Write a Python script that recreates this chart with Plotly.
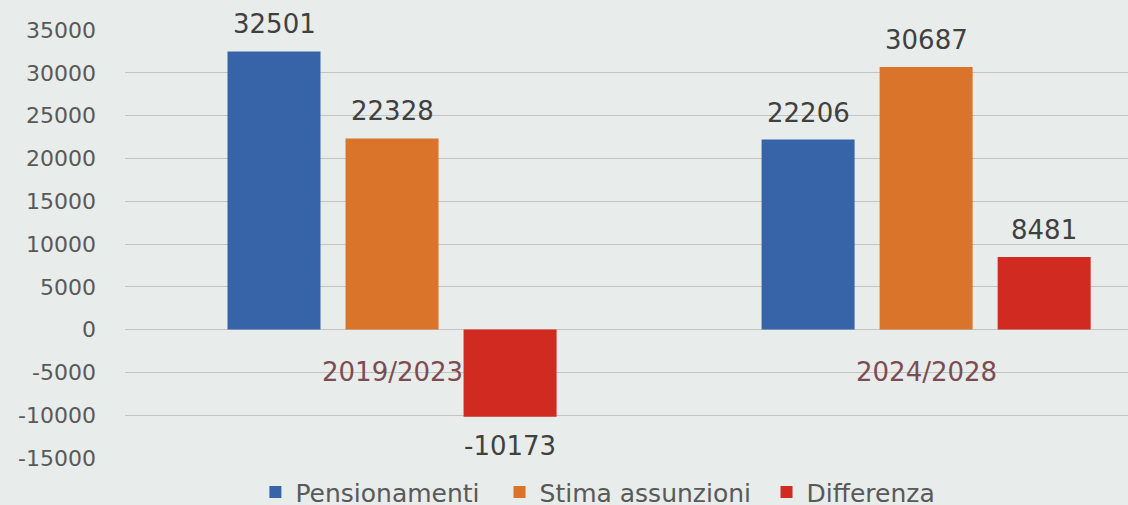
import plotly.graph_objects as go

categories = ["2019/2023", "2024/2028"]
series_names = ["Pensionamenti", "Stima assunzioni", "Differenza"]
pensionamenti = [32501, 22206]
stima_assunzioni = [22328, 30687]
differenza = [-10173, 8481]
y_ticks = [-15000, -10000, -5000, 0, 5000, 10000, 15000, 20000, 25000, 30000, 35000]
y_tick_labels = [str(v) for v in y_ticks]

colors = ["#3764a8", "#d9742a", "#d12a20"]
series_values = [pensionamenti, stima_assunzioni, differenza]
legend_ids = ["legend", "legend2", "legend3"]
legend_x = [0.1300, 0.3734, 0.6396]
FONT = "DejaVu Sans, sans-serif"

fig = go.Figure()
for name, vals, col, lg in zip(series_names, series_values, colors, legend_ids):
    fig.add_trace(go.Bar(x=categories, y=vals, name=name, marker_color=col,
                         marker_line_width=0, legend=lg))

bargap = 0.337
slot = (1 - bargap) / 3
annotations = []
for k, vals in enumerate(series_values):
    for i, v in enumerate(vals):
        annotations.append(dict(
            x=i + (k - 1) * slot, y=v, xref="x", yref="y", text=str(v),
            showarrow=False, yshift=27 if v >= 0 else -29,
            font=dict(family=FONT, size=26, color="#404040")))
for i, c in enumerate(categories):
    annotations.append(dict(
        x=i, y=0, xref="x", yref="y", text=c, showarrow=False, yshift=-42,
        font=dict(family=FONT, size=26, color="#7d4c52")))

legend_style = dict(orientation="h", xanchor="left", y=-0.08, yanchor="middle",
                    font=dict(family=FONT, size=25, color="#595959"),
                    bgcolor="rgba(0,0,0,0)")
fig.update_layout(
    width=1128, height=505,
    barmode="group", bargap=bargap, bargroupgap=0.212,
    paper_bgcolor="#e8ecea", plot_bgcolor="#e8ecea",
    margin=dict(l=125, r=0, t=30, b=47, autoexpand=False),
    font=dict(family=FONT),
    xaxis=dict(range=[-0.5, 1.378], showticklabels=False, showgrid=False,
               zeroline=False, showline=False, ticks=""),
    yaxis=dict(range=[-15000, 35000], tickvals=y_ticks, ticktext=y_tick_labels,
               showgrid=True, gridcolor="#c3c3c3", gridwidth=1, zeroline=True,
               zerolinecolor="#c3c3c3", zerolinewidth=1,
               tickfont=dict(family=FONT, size=22, color="#595959"),
               ticklabelstandoff=28, showline=False),
    legend=dict(x=legend_x[0], **legend_style),
    legend2=dict(x=legend_x[1], **legend_style),
    legend3=dict(x=legend_x[2], **legend_style),
    annotations=annotations,
    showlegend=True,
)
fig.write_html("out.html", config={"displayModeBar": False},
               post_script="document.body.style.margin='0';")
